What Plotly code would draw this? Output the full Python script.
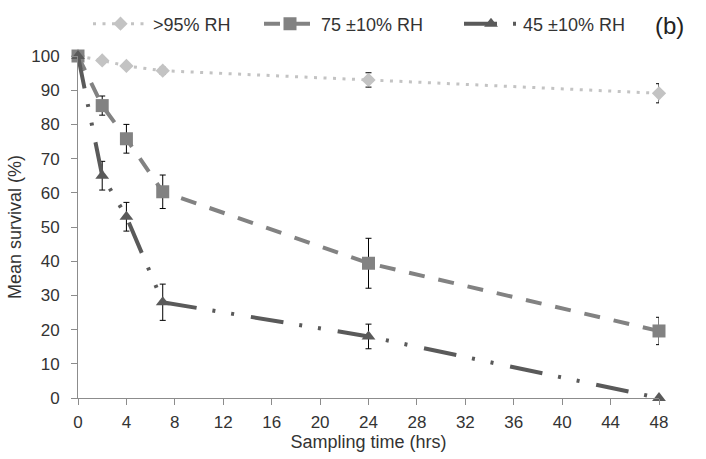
import plotly.graph_objects as go

# Sampling times (hours)
hours = [0, 2, 4, 7, 24, 48]

# Mean survival (%) and error margins for each humidity level
rh95_mean = [100, 98.7, 97.1, 95.7, 93.0, 89.1]
rh95_err = [0, 0.6, 0.6, 1.0, 2.1, 2.8]

rh75_mean = [100, 85.5, 75.8, 60.3, 39.4, 19.6]
rh75_err = [0, 2.8, 4.2, 4.9, 7.3, 4.0]

rh45_mean = [100, 65.0, 53.0, 28.0, 18.0, 0]
rh45_err = [0, 4.2, 4.2, 5.3, 3.6, 0]

series_names = [">95% RH", "75 \u00b110% RH", "45 \u00b110% RH"]
x_ticks = list(range(0, 49, 4))
y_ticks = list(range(0, 101, 10))

FONT = "Liberation Sans, Arial, sans-serif"
TEXT = "#333333"
AXIS = "#8c8c8c"

# plot area in pixels (used to place the legends and the panel label)
W, H = 706, 459
L, R, T, B = 78, 47, 56, 61
PW, PH = W - L - R, H - T - B


def px_x(px):
    return (px - L) / PW


def px_y(py):
    return (H - B - py) / PH


fig = go.Figure()

fig.add_trace(go.Scatter(
    x=hours, y=rh95_mean, name=series_names[0], mode="lines+markers",
    line=dict(color="#c3c3c3", width=3, dash="3px,6.5px"),
    marker=dict(symbol="diamond", size=11, color="#c3c3c3"),
    error_y=dict(type="data", array=rh95_err, color="black", thickness=1, width=3),
    cliponaxis=False, legend="legend",
))

fig.add_trace(go.Scatter(
    x=hours, y=rh75_mean, name=series_names[1], mode="lines+markers",
    line=dict(color="#828282", width=4, dash="16px,14px"),
    marker=dict(symbol="square", size=13, color="#828282"),
    error_y=dict(type="data", array=rh75_err, color="black", thickness=1, width=3),
    cliponaxis=False, legend="legend2",
))

fig.add_trace(go.Scatter(
    x=hours, y=rh45_mean, name=series_names[2], mode="lines+markers",
    line=dict(color="#5a5a5a", width=4, dash="33px,16px,3px,16px,3px,17px"),
    marker=dict(symbol="triangle-up", size=12, color="#5a5a5a"),
    error_y=dict(type="data", array=rh45_err, color="black", thickness=1, width=3),
    cliponaxis=False, legend="legend3",
))

fig.add_annotation(
    text="(b)", xref="paper", yref="paper", x=px_x(669), y=px_y(25),
    xanchor="center", yanchor="middle", showarrow=False,
    font=dict(family=FONT, size=24, color="#222222"),
)

legend_font = dict(family=FONT, size=18, color=TEXT)


def legend_box(left_px, width):
    return dict(
        orientation="h", x=px_x(left_px), y=px_y(24), xanchor="left", yanchor="middle",
        font=legend_font, itemwidth=width, bgcolor="rgba(0,0,0,0)", borderwidth=0,
    )


fig.update_layout(
    width=W, height=H,
    margin=dict(l=L, r=R, t=T, b=B, autoexpand=False),
    paper_bgcolor="white", plot_bgcolor="white",
    font=dict(family=FONT, size=17, color=TEXT),
    showlegend=True,
    legend=legend_box(88, 55),
    legend2=legend_box(259, 52),
    legend3=legend_box(459, 54),
    xaxis=dict(
        range=[0, 48], tickvals=x_ticks, ticktext=[str(v) for v in x_ticks],
        showgrid=False, zeroline=False, showline=True, linecolor=AXIS, linewidth=1,
        ticks="outside", ticklen=6, tickcolor=AXIS, tickfont=dict(size=17, color=TEXT),
        ticklabelstandoff=3,
        title=dict(text="Sampling time (hrs)", standoff=1, font=dict(size=18, color=TEXT)),
    ),
    yaxis=dict(
        range=[0, 100], tickvals=y_ticks, ticktext=[str(v) for v in y_ticks],
        showgrid=False, zeroline=False, showline=True, linecolor=AXIS, linewidth=1,
        ticks="outside", ticklen=6, tickcolor=AXIS, tickfont=dict(size=17, color=TEXT),
        ticklabelstandoff=8,
        title=dict(text="Mean survival (%)", standoff=4, font=dict(size=18, color=TEXT)),
    ),
)

fig.write_html("out.html")
